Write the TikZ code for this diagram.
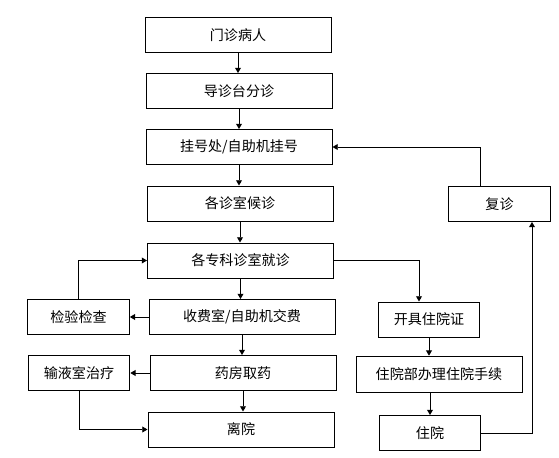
\documentclass[tikz,border=0pt]{standalone}
\usepackage{fontspec}
\setmainfont{Noto Sans CJK SC}
\usetikzlibrary{arrows.meta}
\begin{document}
\begin{tikzpicture}[x=0.03cm, y=-0.03cm, line width=0.8pt,
        >={Triangle[length=4.5pt, width=5pt]},
        box/.style={draw, inner sep=0pt, minimum height=1.05cm, font=\fontsize{12}{14}\selectfont},
        wide/.style={box, minimum width=5.58cm},
        narrow/.style={box, minimum width=3.05cm}]

            \useasboundingbox (0,0) rectangle (559,458);

            % main column
            \node[wide] (menzhen) at (238,35) {门诊病人};
            \node[wide] (daozhen) at (239,91) {导诊台分诊};
            \node[wide] (guahao) at (239,147) {挂号处/自助机挂号};
            \node[wide] (houzhen) at (240,203.5) {各诊室候诊};
            \node[wide] (jiuzhen) at (240.5,260.5) {各专科诊室就诊};
            \node[wide] (jiaofei) at (242,317) {收费室/自助机交费};
            \node[wide] (quyao) at (243,373) {药房取药};
            \node[wide] (liyuan) at (241,429.5) {离院};

            % left side
            \node[narrow] (jianyan) at (78.5,317) {检验检查};
            \node[narrow] (shuye) at (79,373) {输液室治疗};

            % right side
            \node[narrow] (fuzhen) at (499.5,204) {复诊};
            \node[narrow] (kaiju) at (429,319.5) {开具住院证};
            \node[box, minimum width=4.98cm, minimum height=1.1cm] (zhuyuanbu) at (439,374.5) {住院部办理住院手续};
            \node[narrow] (zhuyuan) at (430,433) {住院};

            \draw[->] (menzhen) -- (menzhen |- daozhen.north);
            \draw[->] (daozhen) -- (daozhen |- guahao.north);
            \draw[->] (guahao) -- (guahao |- houzhen.north);
            \draw[->] (houzhen) -- (houzhen |- jiuzhen.north);
            \draw[->] (jiuzhen) -- (jiuzhen |- jiaofei.north);
            \draw[->] (jiaofei) -- (jiaofei |- quyao.north);
            \draw[->] (quyao) -- (quyao |- liyuan.north);

            \draw[->] (jiaofei) -- (jianyan);
            \draw[->] (quyao) -- (shuye);
            \draw[->] (jianyan.north) |- (jiuzhen.west);
            \draw[->] (shuye.south) |- (liyuan.west);

            \draw[->] (jiuzhen.east) -| (kaiju.north -| 419,0);
            \draw[->] (kaiju) -- (kaiju |- zhuyuanbu.north);
            \draw[->] (zhuyuan |- zhuyuanbu.south) -- (zhuyuan);
            \draw[->] (zhuyuan.east) -| (fuzhen.south -| 532,0);
            \draw[->] (fuzhen.north -| 480,0) |- (guahao.east);

\end{tikzpicture}
\end{document}
